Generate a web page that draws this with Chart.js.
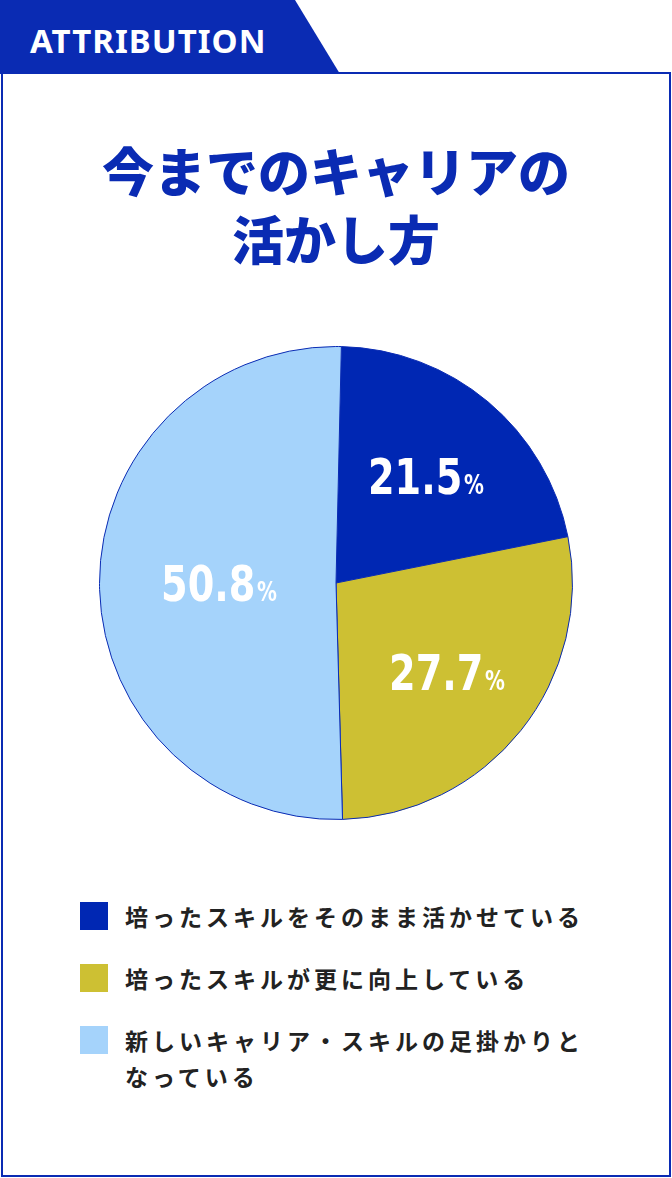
<!DOCTYPE html>
<html><head><meta charset="utf-8">
<script src="https://cdn.jsdelivr.net/npm/chart.js@4"></script>
<style>
body{margin:0;width:672px;height:1178px;background:#fff;position:relative;overflow:hidden;font-family:"Noto Sans CJK JP","Noto Sans",sans-serif}
#frame{position:absolute;left:1px;top:72px;width:666px;height:1101px;border:2px solid #0a2bb3}
#tab{position:absolute;left:0;top:0;width:340px;height:74px;background:#0a2bb3;clip-path:polygon(0 0,295px 0,340px 74px,0 74px)}
#tabt{position:absolute;left:30px;top:18px;color:#fff;font:700 33px "Noto Sans",sans-serif;letter-spacing:1px}
#title{position:absolute;left:0;width:672px;top:136px;text-align:center;color:#0a2bb3;font-weight:900;font-size:52px;line-height:68px}
canvas{position:absolute;left:0;top:328px}
.lg{position:absolute;left:80px;font-weight:700;font-size:23px;color:#222;line-height:36px;letter-spacing:4px}
.lg i{position:absolute;left:0;top:4px;width:28px;height:28px}
.lg span{display:block;margin-left:45px}
</style></head><body>
<div id="frame"></div>
<div id="tab"></div><div id="tabt">ATTRIBUTION</div>
<div id="title">今までのキャリアの<br>活かし方</div>
<canvas id="c" width="672" height="510"></canvas>
<div id="legend"></div>
<script>
const categories=["培ったスキルをそのまま活かせている","培ったスキルが更に向上している","新しいキャリア・スキルの足掛かりと<br>なっている"];
const values=[21.5,27.7,50.8];
const colors=["#0027b3","#cdc033","#a5d3fb"];
const labelRadius=[140,142,117];
const legendTop=[898,960,1022];
const lg=document.getElementById('legend');
categories.forEach((c,i)=>{const d=document.createElement('div');d.className='lg';d.style.top=legendTop[i]+'px';d.innerHTML=`<i style="background:${colors[i]}"></i><span>${c}</span>`;lg.appendChild(d);});
const labels={id:'lbl',afterDatasetsDraw(ch){const ctx=ch.ctx;ch.getDatasetMeta(0).data.forEach((a,i)=>{const mid=(a.startAngle+a.endAngle)/2;const x=a.x+Math.cos(mid)*labelRadius[i],y=a.y+Math.sin(mid)*labelRadius[i];ctx.save();ctx.fillStyle='#fff';ctx.translate(x,y);ctx.scale(0.85,1);const n=values[i].toFixed(1);ctx.font='bold 50px "DejaVu Sans Condensed"';const w1=ctx.measureText(n).width;ctx.font='bold 26px "DejaVu Sans Condensed"';const w2=ctx.measureText('%').width;const sx=-(w1+w2+2)/2;ctx.font='bold 50px "DejaVu Sans Condensed"';ctx.fillText(n,sx,18);ctx.font='bold 26px "DejaVu Sans Condensed"';ctx.fillText('%',sx+w1+2,18);ctx.restore();});}};
new Chart(document.getElementById('c'),{type:'pie',data:{labels:categories,datasets:[{data:values,backgroundColor:colors,borderColor:'#0a2bb3',borderWidth:1}]},options:{responsive:false,animation:false,rotation:1.3,layout:{padding:18},plugins:{legend:{display:false},tooltip:{enabled:false}}},plugins:[labels]});
</script></body></html>
